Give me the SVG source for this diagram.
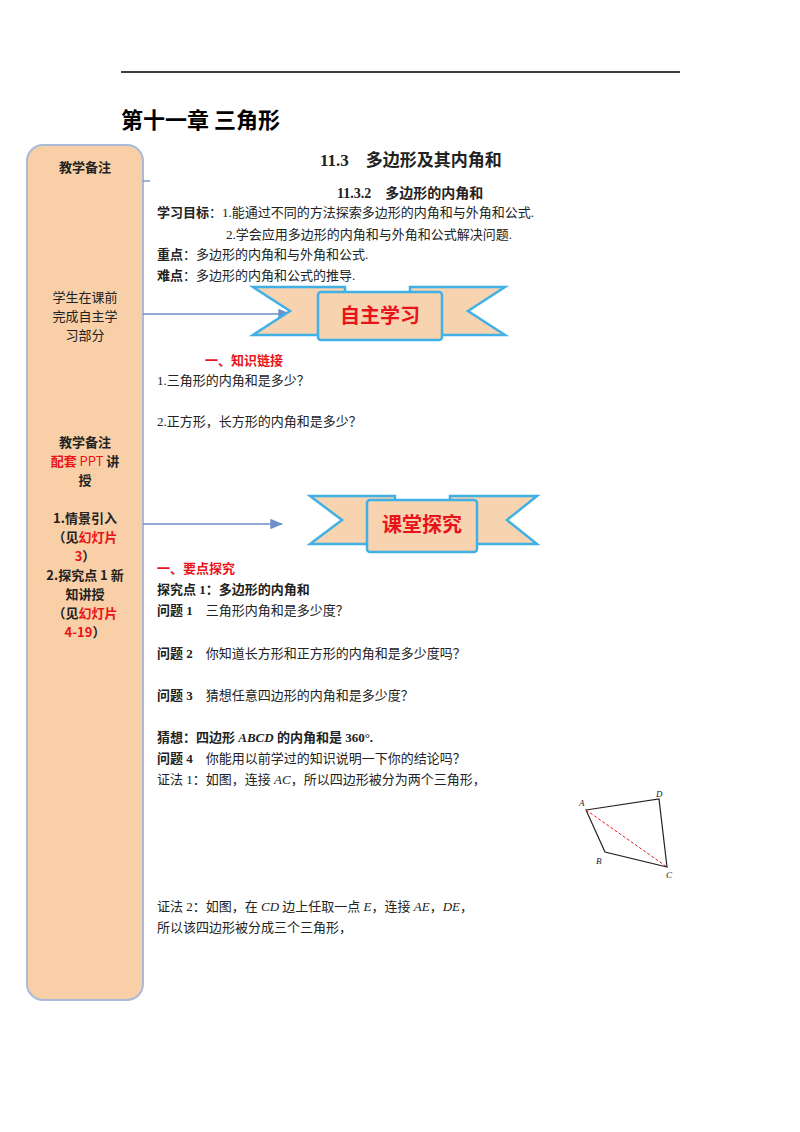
<svg xmlns="http://www.w3.org/2000/svg" width="800" height="1132" viewBox="0 0 800 1132">
<style>
.s{font-family:"Liberation Serif","Noto Sans CJK SC",serif;font-size:13px;fill:#222}
.b{font-weight:bold}
.r{fill:#e8141b}
.side{font-family:"Noto Sans CJK SC",sans-serif;font-size:13px;fill:#222;text-anchor:middle}
.band{fill:#f8d3b0;stroke:#3fb1e6;stroke-width:2.5}
.bt{font-family:"Noto Sans CJK SC",sans-serif;font-size:20px;font-weight:bold;fill:#e8141b;text-anchor:middle}
</style>
<defs><marker id="ar" markerWidth="10" markerHeight="8" refX="9" refY="4" orient="auto"><path d="M0,0L10,4L0,8z" fill="#6b8fc6"/></marker></defs>
<rect width="800" height="1132" fill="#fff"/>
<line x1="121" y1="72" x2="680" y2="72" stroke="#000" stroke-width="1.3"/>
<text x="121" y="128" font-family="Noto Sans CJK SC,sans-serif" font-size="22" font-weight="bold" fill="#000">第十一章 三角形</text>
<g id="sidebar">
<rect x="27" y="145" width="116" height="855" rx="16" fill="#f8cfa7" stroke="#a8bcd9" stroke-width="2"/>
<text class="side b" x="85" y="172">教学备注</text>
<text class="side" x="85" y="302">学生在课前</text>
<text class="side" x="85" y="321">完成自主学</text>
<text class="side" x="85" y="340">习部分</text>
<text class="side b" x="85" y="447">教学备注</text>
<text class="side b" x="85" y="466"><tspan class="r">配套</tspan><tspan class="r" font-weight="normal"> PPT </tspan>讲</text>
<text class="side b" x="85" y="485">授</text>
<text class="side b" x="85" y="523">1.情景引入</text>
<text class="side b" x="85" y="542">（见<tspan class="r">幻灯片</tspan></text>
<text class="side b" x="85" y="561"><tspan class="r">3</tspan>）</text>
<text class="side b" x="85" y="580">2.探究点 1 新</text>
<text class="side b" x="85" y="599">知讲授</text>
<text class="side b" x="85" y="618">（见<tspan class="r">幻灯片</tspan></text>
<text class="side b" x="85" y="637"><tspan class="r">4-19</tspan>）</text>
</g>
<g id="connectors" stroke="#6b8fc6" stroke-width="1.3" fill="none">
<line x1="143" y1="181" x2="150" y2="181"/>
<line x1="143" y1="314" x2="290" y2="314" marker-end="url(#ar)"/>
<line x1="143" y1="524" x2="282" y2="524" marker-end="url(#ar)"/>
</g>
<g id="banner1">
<polygon class="band" points="253,287 345,287 345,335 253,335 290,311"/>
<polygon class="band" points="505,287 410,287 410,335 505,335 468,311"/>
<rect class="band" x="318" y="292" width="124" height="48" rx="3"/>
<text class="bt" x="380" y="323">自主学习</text>
</g>
<g id="banner2">
<polygon class="band" points="310,496 395,496 395,544 310,544 342,520"/>
<polygon class="band" points="537,496 450,496 450,544 537,544 507,520"/>
<rect class="band" x="367" y="500" width="110" height="52" rx="3"/>
<text class="bt" x="422" y="532">课堂探究</text>
</g>
<g id="text">
<text class="s b" x="320" y="166" style="font-size:17px">11.3　多边形及其内角和</text>
<text class="s b" x="337" y="198" style="font-size:14px">11.3.2　多边形的内角和</text>
<text class="s" x="157" y="217"><tspan class="b">学习目标</tspan>：1.能通过不同的方法探索多边形的内角和与外角和公式.</text>
<text class="s" x="226" y="239">2.学会应用多边形的内角和与外角和公式解决问题.</text>
<text class="s" x="157" y="259"><tspan class="b">重点</tspan>：多边形的内角和与外角和公式.</text>
<text class="s" x="157" y="280"><tspan class="b">难点</tspan>：多边形的内角和公式的推导.</text>
<text class="s b r" x="205" y="365">一、知识链接</text>
<text class="s" x="157" y="385">1.三角形的内角和是多少？</text>
<text class="s" x="157" y="426">2.正方形，长方形的内角和是多少？</text>
<text class="s b r" x="157" y="573">一、要点探究</text>
<text class="s b" x="157" y="594">探究点 1：多边形的内角和</text>
<text class="s" x="157" y="615"><tspan class="b">问题 1</tspan>　三角形内角和是多少度？</text>
<text class="s" x="157" y="658"><tspan class="b">问题 2</tspan>　你知道长方形和正方形的内角和是多少度吗？</text>
<text class="s" x="157" y="700"><tspan class="b">问题 3</tspan>　猜想任意四边形的内角和是多少度？</text>
<text class="s b" x="157" y="742">猜想：四边形 <tspan font-style="italic">ABCD</tspan> 的内角和是 360°.</text>
<text class="s" x="157" y="763"><tspan class="b">问题 4</tspan>　你能用以前学过的知识说明一下你的结论吗？</text>
<text class="s" x="157" y="784">证法 1：如图，连接 <tspan font-style="italic">AC</tspan>，所以四边形被分为两个三角形，</text>
<text class="s" x="157" y="911">证法 2：如图，在 <tspan font-style="italic">CD</tspan> 边上任取一点 <tspan font-style="italic">E</tspan>，连接 <tspan font-style="italic">AE</tspan>，<tspan font-style="italic">DE</tspan>，</text>
<text class="s" x="157" y="932">所以该四边形被分成三个三角形，</text>
</g>
<g id="figure">
<polygon points="586,810 659,799 667,867 605,852" fill="none" stroke="#222" stroke-width="1.2"/>
<line x1="586" y1="810" x2="667" y2="867" stroke="#e8141b" stroke-width="1" stroke-dasharray="3,2"/>
<g font-family="Liberation Serif,serif" font-style="italic" font-size="9" fill="#222">
<text x="579" y="806">A</text><text x="656" y="797">D</text><text x="596" y="864">B</text><text x="666" y="878">C</text>
</g>
</g>
</svg>
